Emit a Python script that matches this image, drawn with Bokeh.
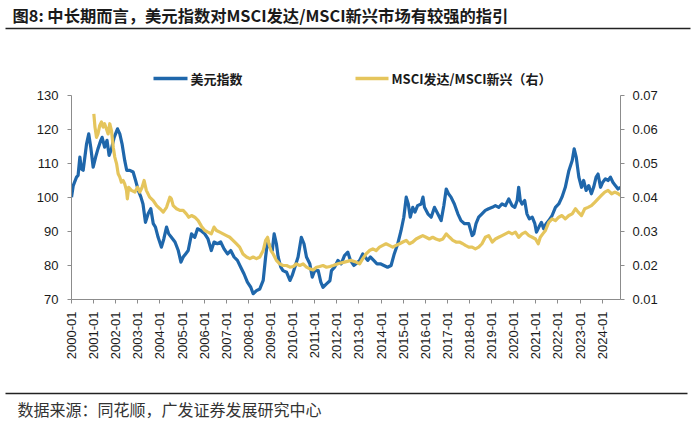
import math
import pandas as pd
from bokeh.plotting import figure
from bokeh.layouts import column
from bokeh.models import (Range1d, LinearAxis, FixedTicker, NumeralTickFormatter,
                          DatetimeTickFormatter, ColumnDataSource)
from bokeh.core.properties import value
from bokeh.embed import file_html
from bokeh.resources import INLINE

# ---------------- data ----------------
usd_dates = [
    "2000-01-01", "2000-01-30", "2000-03-24", "2000-04-19", "2000-05-18", "2000-06-13", "2000-07-12",
    "2000-09-06", "2000-10-12", "2000-11-14", "2000-12-24", "2001-02-03", "2001-03-13", "2001-04-29",
    "2001-05-21", "2001-07-01", "2001-08-10", "2001-09-13", "2001-10-22", "2001-12-06", "2002-01-30",
    "2002-03-09", "2002-04-15", "2002-05-29", "2002-07-01", "2002-08-21", "2002-10-15", "2002-11-25",
    "2003-01-08", "2003-02-21", "2003-03-27", "2003-05-07", "2003-06-20", "2003-08-03", "2003-09-13",
    "2003-10-19", "2003-12-02", "2004-01-26", "2004-03-05", "2004-04-19", "2004-05-25", "2004-07-08",
    "2004-09-06", "2004-10-30", "2004-12-13", "2005-01-19", "2005-02-28", "2005-04-12", "2005-06-06",
    "2005-07-30", "2005-09-13", "2005-11-07", "2006-01-10", "2006-03-05", "2006-04-29", "2006-06-13",
    "2006-08-07", "2006-10-01", "2006-11-25", "2007-01-22", "2007-03-16", "2007-05-10", "2007-07-04",
    "2007-08-28", "2007-10-22", "2007-12-16", "2008-02-10", "2008-03-20", "2008-05-14", "2008-07-08",
    "2008-09-02", "2008-10-12", "2008-11-14", "2008-12-20", "2009-01-30", "2009-03-02", "2009-04-08",
    "2009-05-07", "2009-06-20", "2009-07-26", "2009-09-24", "2009-11-18", "2009-12-24", "2010-02-07",
    "2010-04-01", "2010-05-25", "2010-07-08", "2010-08-18", "2010-10-12", "2010-11-21", "2011-01-01",
    "2011-02-28", "2011-04-12", "2011-05-18", "2011-07-15", "2011-09-09", "2011-10-05", "2011-11-25",
    "2012-01-19", "2012-03-13", "2012-05-07", "2012-07-01", "2012-08-14", "2012-10-08", "2012-11-14",
    "2013-01-12", "2013-03-05", "2013-04-12", "2013-05-25", "2013-07-08", "2013-09-02", "2013-10-26",
    "2013-12-20", "2014-02-17", "2014-04-19", "2014-06-16", "2014-08-07", "2014-10-04", "2014-11-28",
    "2015-01-12", "2015-02-21", "2015-03-27", "2015-04-29", "2015-06-09", "2015-07-15", "2015-08-28",
    "2015-10-26", "2015-11-25", "2015-12-20", "2016-02-14", "2016-04-08", "2016-06-02", "2016-07-26",
    "2016-09-20", "2016-11-03", "2016-12-13", "2017-01-19", "2017-03-02", "2017-04-26", "2017-06-23",
    "2017-08-14", "2017-10-12", "2017-12-20", "2018-02-14", "2018-03-13", "2018-04-19", "2018-06-02",
    "2018-07-26", "2018-09-20", "2018-11-14", "2019-01-12", "2019-03-05", "2019-04-29", "2019-06-23",
    "2019-08-18", "2019-10-12", "2019-12-06", "2020-01-19", "2020-02-28", "2020-03-24", "2020-04-19",
    "2020-05-18", "2020-07-01", "2020-08-07", "2020-09-16", "2020-11-03", "2020-12-16", "2021-01-12",
    "2021-02-21", "2021-04-04", "2021-05-10", "2021-06-20", "2021-08-03", "2021-09-27", "2021-11-21",
    "2022-01-15", "2022-03-09", "2022-05-03", "2022-07-01", "2022-08-25", "2022-09-27", "2022-10-30",
    "2022-12-13", "2023-01-26", "2023-03-02", "2023-04-12", "2023-05-25", "2023-07-08", "2023-08-14",
    "2023-09-24", "2023-10-26", "2023-12-06", "2024-01-12", "2024-02-25", "2024-04-08", "2024-05-18",
    "2024-06-27", "2024-08-07", "2024-09-20", "2024-10-30",
]
usd_index = [
    100.1, 103.5, 106.0, 106.5, 111.9, 108.4, 108.0,
    115.8, 118.7, 114.8, 108.9, 111.9, 114.3, 116.8,
    117.7, 114.8, 116.8, 112.4, 114.3, 117.7, 120.2,
    118.7, 115.8, 110.9, 108.0, 108.0, 107.5, 105.0,
    102.1, 100.1, 98.1, 92.7, 95.2, 96.7, 92.3,
    91.3, 88.3, 85.4, 87.8, 91.3, 89.3, 88.3,
    86.9, 84.4, 81.0, 82.5, 83.4, 84.4, 89.3,
    88.3, 90.8, 90.3, 89.3, 87.8, 84.4, 86.9,
    86.4, 86.9, 84.9, 83.4, 84.4, 82.5, 81.5,
    79.5, 77.5, 75.1, 73.6, 71.7, 72.6, 73.1,
    75.6, 82.5, 87.4, 85.4, 84.4, 89.3, 86.4,
    82.5, 79.5, 78.5, 78.0, 75.6, 77.0, 79.5,
    82.5, 88.3, 86.4, 82.5, 80.5, 76.6, 78.5,
    78.5, 75.1, 73.6, 74.6, 75.5, 78.5, 79.5,
    81.5, 80.5, 82.9, 83.9, 81.5, 80.0, 80.5,
    81.5, 83.4, 82.5, 81.5, 82.5, 81.5, 80.5,
    80.5, 80.0, 79.5, 80.0, 83.4, 86.4, 90.3,
    94.2, 100.1, 98.1, 94.2, 97.1, 95.7, 97.6,
    98.1, 100.1, 97.1, 95.2, 94.2, 97.1, 95.2,
    93.2, 97.6, 102.5, 101.1, 100.1, 98.1, 95.2,
    93.2, 92.3, 92.3, 88.8, 89.3, 92.3, 94.2,
    95.2, 96.2, 96.7, 97.1, 97.6, 97.1, 98.1,
    97.6, 99.6, 97.6, 97.1, 99.1, 103.0, 99.1,
    98.1, 99.1, 95.2, 93.7, 94.2, 92.3, 89.8,
    91.3, 92.7, 90.8, 92.3, 93.2, 94.7, 97.1,
    98.1, 100.1, 103.0, 107.9, 110.9, 114.3, 111.9,
    106.0, 103.0, 105.0, 102.1, 103.5, 101.1, 103.0,
    106.0, 106.9, 103.0, 104.5, 105.5, 105.0, 106.0,
    104.5, 103.5, 102.5, 103.0,
]

msci_dates = [
    "2001-01-04", "2001-01-23", "2001-02-17", "2001-03-13", "2001-04-12", "2001-05-10", "2001-06-06",
    "2001-07-01", "2001-07-30", "2001-08-28", "2001-09-24", "2001-10-22", "2001-11-21", "2001-12-16",
    "2002-01-15", "2002-02-10", "2002-03-09", "2002-04-04", "2002-05-03", "2002-05-29", "2002-06-27",
    "2002-07-12", "2002-08-03", "2002-09-16", "2002-11-14", "2002-12-27", "2003-02-03", "2003-03-13",
    "2003-04-15", "2003-05-21", "2003-07-15", "2003-09-13", "2003-11-07", "2004-01-01", "2004-02-25",
    "2004-04-19", "2004-06-13", "2004-07-08", "2004-08-07", "2004-10-01", "2004-11-25", "2005-01-19",
    "2005-03-13", "2005-04-22", "2005-06-06", "2005-07-30", "2005-09-24", "2005-11-18", "2006-01-12",
    "2006-03-05", "2006-04-29", "2006-06-13", "2006-07-23", "2006-09-16", "2006-11-10", "2007-01-04",
    "2007-02-28", "2007-04-22", "2007-06-16", "2007-08-10", "2007-10-04", "2007-12-02", "2008-01-26",
    "2008-03-20", "2008-05-14", "2008-07-08", "2008-09-02", "2008-10-12", "2008-11-14", "2008-12-06",
    "2009-01-08", "2009-02-14", "2009-04-08", "2009-06-02", "2009-07-26", "2009-09-24", "2009-11-18",
    "2010-01-12", "2010-03-05", "2010-04-29", "2010-06-23", "2010-08-18", "2010-10-12", "2010-12-06",
    "2011-01-30", "2011-03-24", "2011-05-18", "2011-07-15", "2011-09-09", "2011-11-03", "2012-01-19",
    "2012-05-07", "2012-08-25", "2012-11-14", "2013-01-12", "2013-03-05", "2013-04-29", "2013-06-23",
    "2013-08-18", "2013-10-12", "2013-12-06", "2014-01-30", "2014-03-24", "2014-05-18", "2014-07-12",
    "2014-09-06", "2014-11-03", "2014-12-27", "2015-02-21", "2015-04-15", "2015-06-09", "2015-08-03",
    "2015-09-27", "2015-11-21", "2016-01-15", "2016-03-09", "2016-05-03", "2016-06-27", "2016-08-25",
    "2016-10-19", "2016-12-13", "2017-02-07", "2017-04-01", "2017-05-25", "2017-07-19", "2017-09-13",
    "2017-10-26", "2017-12-20", "2018-02-14", "2018-04-08", "2018-06-02", "2018-07-26", "2018-09-20",
    "2018-11-14", "2019-01-12", "2019-03-05", "2019-04-29", "2019-06-23", "2019-08-18", "2019-10-12",
    "2019-12-06", "2020-01-30", "2020-03-24", "2020-05-18", "2020-07-12", "2020-09-09", "2020-11-03",
    "2020-12-27", "2021-02-10", "2021-03-16", "2021-04-26", "2021-06-09", "2021-08-03", "2021-09-27",
    "2021-11-21", "2022-01-15", "2022-03-09", "2022-05-03", "2022-07-01", "2022-08-25", "2022-10-19",
    "2022-12-02", "2023-01-26", "2023-03-20", "2023-05-14", "2023-07-08", "2023-09-02", "2023-10-26",
    "2023-12-20", "2024-02-14", "2024-04-08", "2024-06-06", "2024-07-30", "2024-09-24", "2024-10-30",
]
msci_ratio = [
    0.0646, 0.0607, 0.0577, 0.0587, 0.0612, 0.0622, 0.0607,
    0.0617, 0.0602, 0.0587, 0.0617, 0.0597, 0.0548, 0.0519,
    0.0499, 0.0470, 0.0460, 0.0445, 0.0450, 0.0440, 0.0421,
    0.0396, 0.0430, 0.0421, 0.0416, 0.0430, 0.0416, 0.0430,
    0.0450, 0.0421, 0.0401, 0.0391, 0.0376, 0.0367, 0.0357,
    0.0371, 0.0401, 0.0396, 0.0376, 0.0367, 0.0362, 0.0362,
    0.0352, 0.0342, 0.0347, 0.0342, 0.0332, 0.0315, 0.0303,
    0.0298, 0.0293, 0.0313, 0.0303, 0.0298, 0.0293, 0.0288,
    0.0283, 0.0274, 0.0264, 0.0254, 0.0234, 0.0225, 0.0220,
    0.0225, 0.0220, 0.0225, 0.0244, 0.0274, 0.0283, 0.0264,
    0.0244, 0.0234, 0.0215, 0.0205, 0.0200, 0.0200, 0.0195,
    0.0197, 0.0205, 0.0200, 0.0205, 0.0195, 0.0190, 0.0187,
    0.0195, 0.0197, 0.0200, 0.0195, 0.0197, 0.0200, 0.0205,
    0.0210, 0.0215, 0.0210, 0.0205, 0.0220, 0.0234, 0.0244,
    0.0249, 0.0244, 0.0254, 0.0259, 0.0264, 0.0259, 0.0254,
    0.0259, 0.0264, 0.0269, 0.0274, 0.0264, 0.0269, 0.0278,
    0.0283, 0.0288, 0.0283, 0.0278, 0.0283, 0.0278, 0.0274,
    0.0278, 0.0293, 0.0283, 0.0274, 0.0269, 0.0269, 0.0264,
    0.0259, 0.0254, 0.0254, 0.0249, 0.0254, 0.0264, 0.0283,
    0.0288, 0.0269, 0.0278, 0.0283, 0.0288, 0.0293, 0.0298,
    0.0293, 0.0298, 0.0283, 0.0293, 0.0298, 0.0288, 0.0283,
    0.0278, 0.0264, 0.0283, 0.0293, 0.0303, 0.0327, 0.0337,
    0.0332, 0.0342, 0.0347, 0.0337, 0.0347, 0.0352, 0.0367,
    0.0357, 0.0347, 0.0367, 0.0371, 0.0376, 0.0386, 0.0396,
    0.0406, 0.0416, 0.0421, 0.0411, 0.0416, 0.0411, 0.0406,
]

left_ticks = [70, 80, 90, 100, 110, 120, 130]
right_ticks = [0.01, 0.02, 0.03, 0.04, 0.05, 0.06, 0.07]
year_ticks = [f"{y}-01" for y in range(2000, 2025)]

title_text = "图8: 中长期而言，美元指数对MSCI发达/MSCI新兴市场有较强的指引"
source_text = "数据来源：同花顺，广发证券发展研究中心"
usd_name = "美元指数"
msci_name = "MSCI发达/MSCI新兴（右）"

BLUE = "#1f67ab"
YELLOW = "#e5c55c"
CJK = "Noto Sans CJK SC"
NUM = "Liberation Sans"
DARK = "#1a1a1a"

W = 700
TOP_H, MAIN_H, BOT_H = 87, 298, 41      # strips stacked top to bottom (sum 426)
FL, FR, FT, FB = 71, 620, 95, 299       # plot frame edges in page pixels


def strip(h, y0):
    """A bare figure whose data coordinates equal page pixels (y downward)."""
    f = figure(width=W, height=h, output_backend="svg", toolbar_location=None,
               x_range=Range1d(0, W), y_range=Range1d(y0 + h, y0),
               x_axis_location=None, y_axis_location=None,
               min_border=0, min_border_left=0, min_border_right=0,
               min_border_top=0, min_border_bottom=0, frame_align=False)
    f.outline_line_color = None
    f.grid.visible = False
    f.background_fill_color = "white"
    f.border_fill_color = "white"
    return f


# ---------------- top strip: title, rule, legend ----------------
top = strip(TOP_H, 0)
top.text(x=[12], y=[14], text=[title_text], text_font=value(CJK), text_font_size="16.3px",
         text_font_style="bold", text_color=DARK, text_baseline="middle")
top.segment(x0=[5], y0=[28], x1=[690], y1=[28], line_color="#222222", line_width=1.6)
top.segment(x0=[153, 355], y0=[78, 78], x1=[187, 388], y1=[78, 78],
            line_color=[BLUE, YELLOW], line_width=3.6)
top.text(x=[190, 391], y=[78, 78], text=[usd_name, msci_name], text_font=value(CJK),
         text_font_size="13px", text_font_style="bold", text_color=DARK,
         text_baseline="middle")

# ---------------- main chart ----------------
y_off = TOP_H
p = figure(width=W, height=MAIN_H, output_backend="svg", toolbar_location=None,
           x_axis_type="datetime",
           x_range=Range1d(pd.Timestamp("2000-01-01"), pd.Timestamp("2024-10-31")),
           y_range=Range1d(70, 130),
           min_border_left=FL, min_border_right=W - FR,
           min_border_top=FT - y_off, min_border_bottom=y_off + MAIN_H - FB,
           frame_align=False)
p.extra_y_ranges = {"right": Range1d(0.01, 0.07)}
p.outline_line_color = None
p.xgrid.visible = False
p.ygrid.visible = False
p.background_fill_color = "white"
p.border_fill_color = "white"

usd_src = ColumnDataSource(dict(x=pd.to_datetime(usd_dates), y=usd_index))
msci_src = ColumnDataSource(dict(x=pd.to_datetime(msci_dates), y=msci_ratio))
p.line("x", "y", source=usd_src, color=BLUE, line_width=3.2, line_join="round")
p.line("x", "y", source=msci_src, color=YELLOW, line_width=3.2, line_join="round",
       y_range_name="right")

AX = "#8c8c8c"
ya = p.yaxis[0]
ya.ticker = FixedTicker(ticks=left_ticks)
ra = LinearAxis(y_range_name="right", ticker=FixedTicker(ticks=right_ticks),
                formatter=NumeralTickFormatter(format="0.00"))
p.add_layout(ra, "right")
for ax in (ya, ra):
    ax.axis_line_color = AX
    ax.major_tick_line_color = AX
    ax.major_tick_in = 0
    ax.major_tick_out = 4
    ax.minor_tick_line_color = None
    ax.major_label_text_font = NUM
    ax.major_label_text_font_size = "13px"
    ax.major_label_text_color = DARK
ya.major_label_standoff = 9
ra.major_label_standoff = 8

xa = p.xaxis[0]
xa.ticker = FixedTicker(ticks=[pd.Timestamp(t + "-01").value / 1e6 for t in year_ticks])
xa.formatter = DatetimeTickFormatter(years="%Y-%m", months="%Y-%m", days="%Y-%m")
xa.major_label_orientation = math.pi / 2
xa.axis_line_color = AX
xa.major_tick_line_color = AX
xa.major_tick_in = 0
xa.major_tick_out = 4
xa.minor_tick_line_color = None
xa.major_label_text_font = NUM
xa.major_label_text_font_size = "13px"
xa.major_label_text_color = DARK
xa.major_label_standoff = 8

# ---------------- bottom strip: rule and source ----------------
bot = strip(BOT_H, TOP_H + MAIN_H)
bot.segment(x0=[5], y0=[393], x1=[687], y1=[393], line_color="#222222", line_width=1.6)
bot.text(x=[17], y=[408], text=[source_text], text_font=value(CJK), text_font_size="16px",
         text_color="#333333", text_baseline="middle")

layout = column(top, p, bot, spacing=0)
open("out.html", "w").write(file_html(layout, INLINE))
